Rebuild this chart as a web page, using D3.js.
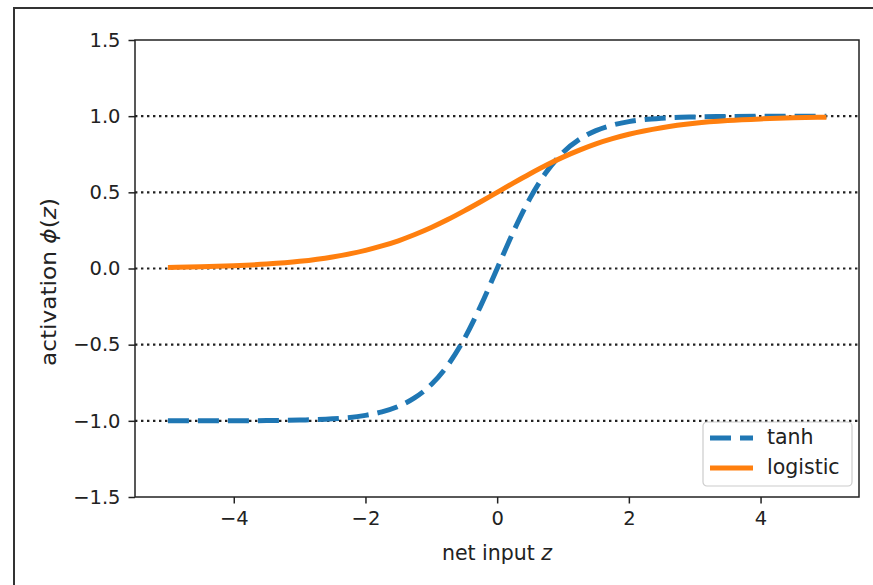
<!DOCTYPE html>
<html>
<head>
<meta charset="utf-8">
<script src="https://cdn.jsdelivr.net/npm/d3@7"></script>
<style>
  body { margin: 0; background: #fff; }
  svg text { font-family: "DejaVu Sans", sans-serif; fill: #222; }
</style>
</head>
<body>
<svg id="chart"></svg>
<script>
// values
const zValues = [-5, -4.5, -4, -3.5, -3, -2.5, -2, -1.75, -1.5, -1.25, -1, -0.75, -0.5, -0.25,
  0, 0.25, 0.5, 0.75, 1, 1.25, 1.5, 1.75, 2, 2.5, 3, 3.5, 4, 4.5, 5];
const tanhValues = [-1.0, -1.0, -1.0, -0.998, -0.995, -0.987, -0.964, -0.941, -0.905, -0.848, -0.762, -0.635, -0.462, -0.245,
  0, 0.245, 0.462, 0.635, 0.762, 0.848, 0.905, 0.941, 0.964, 0.987, 0.995, 0.998, 1.0, 1.0, 1.0];
const logisticValues = [0.007, 0.011, 0.018, 0.029, 0.047, 0.076, 0.119, 0.148, 0.182, 0.223, 0.269, 0.321, 0.378, 0.438,
  0.5, 0.562, 0.622, 0.679, 0.731, 0.777, 0.818, 0.852, 0.881, 0.924, 0.953, 0.971, 0.982, 0.989, 0.993];
const guideLevels = [1, 0.5, 0, -0.5, -1];
const xTicks = [-4, -2, 0, 2, 4];
const yTicks = [-1.5, -1.0, -0.5, 0.0, 0.5, 1.0, 1.5];
const seriesNames = ["tanh", "logistic"];

const width = 873, height = 585;
const plotLeft = 135, plotRight = 859, plotTop = 40, plotBottom = 497;

const svg = d3.select("#chart").attr("width", width).attr("height", height);

// frame of the screenshot (left and top edges only)
svg.append("path")
  .attr("d", `M14,${height} V8 H${width}`)
  .attr("fill", "none")
  .attr("stroke", "#333")
  .attr("stroke-width", 2);

const x = d3.scaleLinear().domain([-5.5, 5.495]).range([plotLeft, plotRight]);
const y = d3.scaleLinear().domain([-1.5, 1.5]).range([plotBottom, plotTop]);

// dotted guide lines
svg.selectAll(".guide")
  .data(guideLevels)
  .enter()
  .append("line")
  .attr("class", "guide")
  .attr("x1", plotLeft).attr("x2", plotRight)
  .attr("y1", d => y(d)).attr("y2", d => y(d))
  .attr("stroke", "#222")
  .attr("stroke-width", 2.2)
  .attr("stroke-dasharray", "2.4,3.6");

const line = d3.line().curve(d3.curveMonotoneX);

const tanhPts = zValues.map((z, i) => [x(z), y(tanhValues[i])]);
const logPts = zValues.map((z, i) => [x(z), y(logisticValues[i])]);

svg.append("path")
  .attr("d", line(tanhPts))
  .attr("fill", "none")
  .attr("stroke", "#1f77b4")
  .attr("stroke-width", 5)
  .attr("stroke-dasharray", "21,9");

svg.append("path")
  .attr("d", line(logPts))
  .attr("fill", "none")
  .attr("stroke", "#ff7f0e")
  .attr("stroke-width", 5);

// axes
const xAxis = svg.append("g")
  .attr("transform", `translate(0,${plotBottom})`)
  .call(d3.axisBottom(x).tickValues(xTicks).tickFormat(d3.format("d"))
    .tickSizeInner(6.5).tickSizeOuter(0).tickPadding(8));
const yAxis = svg.append("g")
  .attr("transform", `translate(${plotLeft},0)`)
  .call(d3.axisLeft(y).tickValues(yTicks).tickFormat(d3.format(".1f"))
    .tickSizeInner(6.5).tickSizeOuter(0).tickPadding(8));

[xAxis, yAxis].forEach(g => {
  g.select(".domain").remove();
  g.selectAll(".tick line").attr("stroke", "#222").attr("stroke-width", 1.5);
  g.selectAll(".tick text").attr("font-size", 19.5).attr("fill", "#222")
    .style("font-family", "'DejaVu Sans', sans-serif");
});

svg.append("rect")
  .attr("x", plotLeft).attr("y", plotTop)
  .attr("width", plotRight - plotLeft).attr("height", plotBottom - plotTop)
  .attr("fill", "none")
  .attr("stroke", "#222")
  .attr("stroke-width", 1.5);

// axis labels
const xl = svg.append("text")
  .attr("x", (plotLeft + plotRight) / 2)
  .attr("y", 560)
  .attr("text-anchor", "middle")
  .attr("font-size", 20.5);
xl.append("tspan").text("net input ");
xl.append("tspan").attr("font-style", "italic").text("z");

const yl = svg.append("text")
  .attr("transform", "translate(56,282) rotate(-90)")
  .attr("text-anchor", "middle")
  .attr("font-size", 20.5)
  .attr("textLength", 168)
  .attr("lengthAdjust", "spacingAndGlyphs");
yl.append("tspan").text("activation ");
yl.append("tspan").attr("font-style", "italic").text("ϕ");
yl.append("tspan").text("(");
yl.append("tspan").attr("font-style", "italic").text("z");
yl.append("tspan").text(")");

// legend
const legend = svg.append("g").attr("transform", "translate(703,422)");
legend.append("rect")
  .attr("width", 149).attr("height", 64).attr("rx", 4)
  .attr("fill", "#fff").attr("fill-opacity", 0.8)
  .attr("stroke", "#ccc").attr("stroke-width", 1.2);

const legendItems = legend.selectAll(".item")
  .data(seriesNames)
  .enter()
  .append("g")
  .attr("class", "item")
  .attr("transform", (d, i) => `translate(0,${16 + i * 30})`);

legendItems.append("line")
  .attr("x1", 7).attr("x2", 50)
  .attr("stroke", (d, i) => i === 0 ? "#1f77b4" : "#ff7f0e")
  .attr("stroke-width", 5)
  .attr("stroke-dasharray", (d, i) => i === 0 ? "21,9" : null);

legendItems.append("text")
  .attr("x", 64).attr("y", 6)
  .attr("font-size", 20.5)
  .text(d => d);
</script>
</body>
</html>
